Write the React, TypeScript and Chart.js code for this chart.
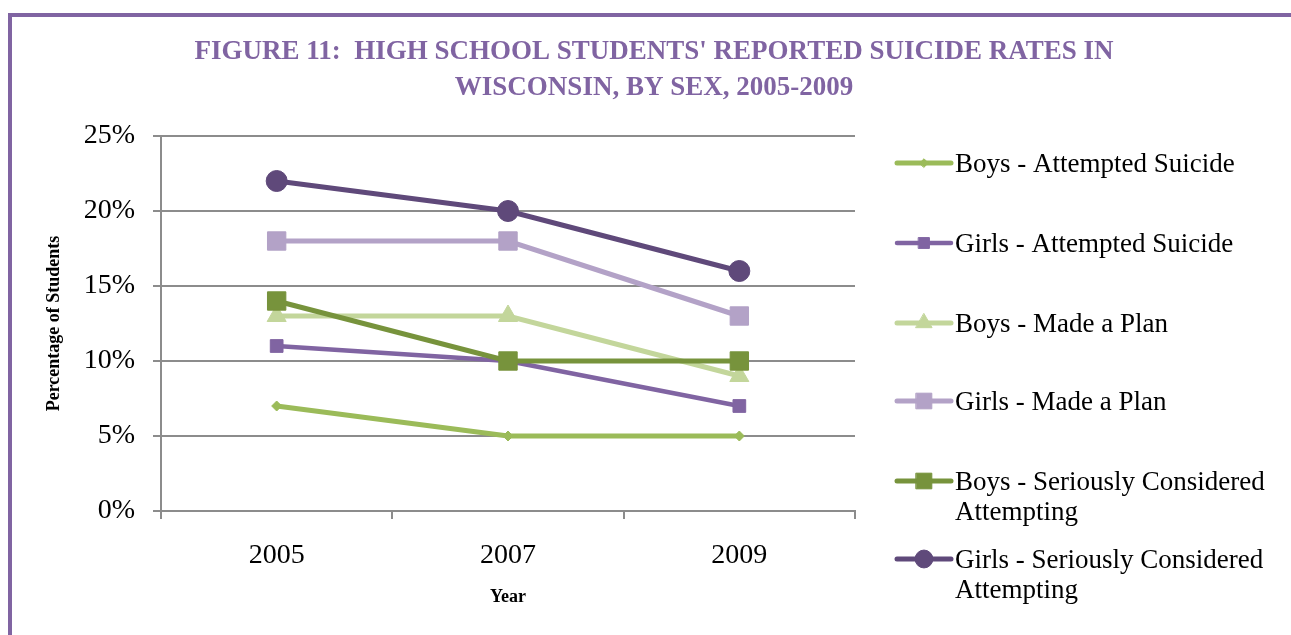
import { useEffect, useRef } from 'react';
import { Chart, registerables } from 'chart.js';
import { drawPoint } from 'chart.js/helpers';

Chart.register(...registerables);

// ---- data ----
const years = ['2005', '2007', '2009'];
const boysAttempted = [7, 5, 5];
const girlsAttempted = [11, 10, 7];
const boysPlan = [13, 13, 9];
const girlsPlan = [18, 18, 13];
const boysConsidered = [14, 10, 10];
const girlsConsidered = [22, 20, 16];
const yTickLabels = ['0%', '5%', '10%', '15%', '20%', '25%'];
const seriesLabels = [
  ['Boys - Attempted Suicide'],
  ['Girls - Attempted Suicide'],
  ['Boys - Made a Plan'],
  ['Girls - Made a Plan'],
  ['Boys - Seriously Considered', 'Attempting'],
  ['Girls - Seriously Considered', 'Attempting'],
];
const titleLines = [
  "FIGURE 11:  HIGH SCHOOL STUDENTS' REPORTED SUICIDE RATES IN",
  'WISCONSIN, BY SEX, 2005-2009',
];
const xAxisTitle = 'Year';
const yAxisTitle = 'Percentage of Students';

// ---- styles ----
const seriesValues = [boysAttempted, girlsAttempted, boysPlan, girlsPlan, boysConsidered, girlsConsidered];
const seriesStyles = [
  { color: '#9BBB59', point: 'rectRot', r: 5, lw: 5 },
  { color: '#8064A2', point: 'rect', r: 9, lw: 4.5 },
  { color: '#C3D69B', point: 'triangle', r: 11, lw: 5 },
  { color: '#B3A2C7', point: 'rect', r: 13, lw: 5 },
  { color: '#77933C', point: 'rect', r: 13, lw: 5 },
  { color: '#5F497A', point: 'circle', r: 10.5, lw: 5 },
];
const FONT = '"Liberation Serif", "Times New Roman", serif';
const GRID = '#8C8C8C';
const TITLE_COLOR = '#8064A2';
const legendRowsY = [163, 243, 323, 401, 481, 559];
const legendLineX0 = 897;
const legendLineX1 = 951;
const legendTextX = 955;
const legendLineGap = 30;

const decorPlugin = {
  id: 'decor',
  afterDraw(chart: any) {
    const ctx = chart.ctx as CanvasRenderingContext2D;
    ctx.save();
    // title
    ctx.fillStyle = TITLE_COLOR;
    ctx.font = `bold 27px ${FONT}`;
    ctx.textAlign = 'center';
    ctx.textBaseline = 'middle';
    ctx.fillText(titleLines[0], 654, 52);
    ctx.fillText(titleLines[1], 654, 88);
    // legend
    seriesStyles.forEach((s, i) => {
      const y = legendRowsY[i];
      ctx.strokeStyle = s.color;
      ctx.lineWidth = s.lw;
      ctx.lineCap = 'round';
      ctx.beginPath();
      ctx.moveTo(legendLineX0, y);
      ctx.lineTo(legendLineX1, y);
      ctx.stroke();
      ctx.fillStyle = s.color;
      ctx.strokeStyle = s.color;
      ctx.lineWidth = 1;
      drawPoint(ctx, { pointStyle: s.point, radius: s.r * 0.85, rotation: 0, borderWidth: 1 } as any, (legendLineX0 + legendLineX1) / 2, y);
      ctx.fillStyle = '#000';
      ctx.font = `27px ${FONT}`;
      ctx.textAlign = 'left';
      ctx.textBaseline = 'middle';
      seriesLabels[i].forEach((t, k) => ctx.fillText(t, legendTextX, y + 2 + k * legendLineGap));
    });
    ctx.restore();
  },
};

export default function App() {
  const ref = useRef<HTMLCanvasElement>(null);
  useEffect(() => {
    if (!ref.current) return;
    const chart = new Chart(ref.current, {
      type: 'line',
      data: {
        labels: years,
        datasets: seriesValues.map((vals, i) => ({
          label: seriesLabels[i].join(' '),
          data: vals,
          borderColor: seriesStyles[i].color,
          backgroundColor: seriesStyles[i].color,
          borderWidth: seriesStyles[i].lw,
          pointStyle: seriesStyles[i].point as any,
          pointRadius: seriesStyles[i].r,
          pointBorderWidth: 1,
          pointBorderColor: seriesStyles[i].color,
          pointBackgroundColor: seriesStyles[i].color,
          tension: 0,
          fill: false,
          order: seriesValues.length - i,
        })),
      },
      options: {
        responsive: false,
        animation: false,
        layout: { padding: { left: 20, right: 436, top: 136, bottom: 0 } },
        plugins: {
          legend: { display: false },
          title: { display: false },
          tooltip: { enabled: false },
        },
        scales: {
          x: {
            type: 'category',
            offset: true,
            grid: { display: true, drawOnChartArea: false, drawTicks: true, tickLength: 8, color: GRID, lineWidth: 2, offset: true },
            border: { display: true, color: GRID, width: 2 },
            ticks: { color: '#000', font: { family: FONT, size: 28 }, padding: 20, maxRotation: 0 },
            title: { display: true, text: xAxisTitle, color: '#000', font: { family: FONT, size: 18, weight: 'bold' }, padding: { top: 0, bottom: 27 } },
            afterFit: (s: any) => { s.height = 124; },
          },
          y: {
            min: 0,
            max: 25,
            ticks: {
              stepSize: 5,
              color: '#000',
              font: { family: FONT, size: 28 },
              padding: 18,
              callback: (_v: any, i: number) => yTickLabels[i],
            },
            grid: { color: GRID, lineWidth: 2, tickLength: 8, drawTicks: true },
            border: { display: true, color: GRID, width: 2 },
            title: { display: true, text: yAxisTitle, color: '#000', font: { family: FONT, size: 18, weight: 'bold' }, padding: { top: 24, bottom: 0 } },
            afterFit: (s: any) => { s.width = 141; },
          },
        },
      },
      plugins: [decorPlugin],
    });
    return () => chart.destroy();
  }, []);
  return (
    <div style={{ position: 'absolute', left: 0, top: 0, width: 1291, height: 635, overflow: 'hidden', background: '#fff' }}>
      <div style={{ position: 'absolute', left: 8, top: 13, width: 1400, height: 700, borderLeft: '4px solid #8064A2', borderTop: '4px solid #8064A2', boxSizing: 'border-box' }} />
      <canvas ref={ref} width={1291} height={635} style={{ position: 'absolute', left: 0, top: 0 }} />
    </div>
  );
}
